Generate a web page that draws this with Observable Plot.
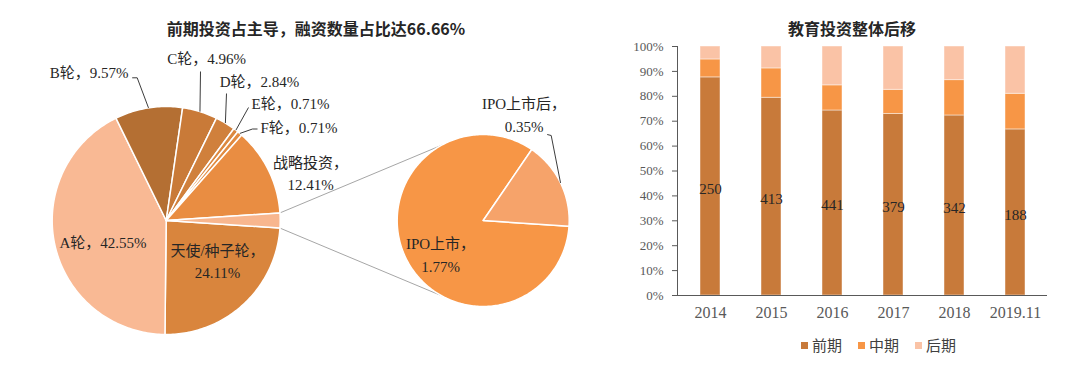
<!DOCTYPE html>
<html><head><meta charset="utf-8">
<script src="https://cdn.jsdelivr.net/npm/d3@7"></script>
<script src="https://cdn.jsdelivr.net/npm/@observablehq/plot@0.6"></script>
<style>
body{margin:0;background:#fff}
#wrap{position:relative;width:1080px;height:379px;overflow:hidden;background:#fff}
.panel{position:absolute;top:0}
.ttl{position:absolute;transform:translate(-50%,-50%);font-family:"Noto Sans CJK SC",sans-serif;font-weight:bold;font-size:16px;color:#262626;white-space:nowrap;line-height:20px}
.lg-swatches{font-family:"Noto Sans CJK SC",sans-serif;font-size:15px;color:#404040;margin:0}
.lg-swatches-wrap{min-height:0 !important;line-height:20px}
.lg-swatch{margin-right:16px !important}
.lg-swatch > svg{margin-right:4px !important}
#legend{position:absolute;left:801px;top:335px}
</style></head><body>
<div id="wrap">
  <div class="ttl" style="left:316px;top:28px">前期投资占主导，融资数量占比达66.66%</div>
  <div class="ttl" style="left:852px;top:28px">教育投资整体后移</div>
  <div id="left" class="panel" style="left:0"></div>
  <div id="right" class="panel" style="left:600px"></div>
  <div id="legend"></div>
</div>
<script>
// ---------- data ----------
const roundNames = ["天使/种子轮","A轮","B轮","C轮","D轮","E轮","F轮","战略投资"];
const roundShares = [24.11,42.55,9.57,4.96,2.84,0.71,0.71,12.41];
const ipoNames = ["IPO上市","IPO上市后"];
const ipoShares = [1.77,0.35];

const years = ["2014","2015","2016","2017","2018","2019.11"];
const stages = ["前期","中期","后期"];
const earlyShare = [87.6,79.4,74.3,72.9,72.3,66.7];
const midShare   = [7.2,11.8,10.1,9.7,14.2,14.3];
const lateShare  = [5.2,8.8,15.6,17.4,13.5,19.0];
const dealCounts = [250,413,441,379,342,188];
const yTicks = [0,0.1,0.2,0.3,0.4,0.5,0.6,0.7,0.8,0.9,1];

// ---------- styles / layout ----------
const sliceColors = {
  "天使/种子轮":"#D9853D","A轮":"#F9B994","B轮":"#B46F33","C轮":"#C97A38","D轮":"#D0803C",
  "E轮":"#DC8840","F轮":"#E28B41","战略投资":"#E98D42","IPO合计":"#F8B68E",
  "IPO上市":"#F79646","IPO上市后":"#F6A36A"
};
const stageColors = ["#C87A3A","#F79646","#FAC3A6"];
const mainPie = {cx:165.7, cy:220, r:114};
const subPie  = {cx:482.7, cy:220, r:86};
const connectorSpread = 61 * Math.PI/180;
const labelFont = "'Liberation Serif','Noto Sans CJK SC',serif";
// label placement (layout only) and leader elbows
const labelLayout = {
  "B轮":{x:128,y:73,anchor:"end",leader:[[131.7,77.3],[136.7,77.3]]},
  "C轮":{x:206,y:56,leader:[[200,71]]},
  "D轮":{x:259,y:79.5,leader:[[226,93]]},
  "E轮":{x:290,y:101.5,leader:[[248,107]]},
  "F轮":{x:298.5,y:125,leader:[[257,128.5],[252,128.5]]},
  "战略投资":{x:310,y:160,two:true},
  "A轮":{x:102.5,y:240},
  "天使/种子轮":{x:217,y:248,two:true},
  "IPO上市后":{x:523.5,y:101.5,two:true,leader:[[546.7,134],[550.7,135]],sub:true},
  "IPO上市":{x:440,y:241.5,two:true,sub:true}
};

// ---------- pie geometry ----------
const total = d3.sum(roundShares) + d3.sum(ipoShares);
const combined = d3.sum(ipoShares);
const combAngle = 2*Math.PI*combined/total;
const start = Math.PI/2 + combAngle/2;
const mainData = roundNames.map((n,i)=>({name:n,value:roundShares[i]})).concat([{name:"IPO合计",value:combined}]);
const subData = ipoNames.map((n,i)=>({name:n,value:ipoShares[i]}));
const pieGen = d3.pie().sort(null).value(d=>d.value).startAngle(start).endAngle(start+2*Math.PI);
const mainArcs = pieGen(mainData);
const subArcs = pieGen(subData);
const pt = (c,a,r=c.r)=>({x:c.cx + r*Math.sin(a), y:c.cy - r*Math.cos(a)});

function slicePoints(arcs, c){
  const out = [];
  for (const a of arcs){
    const name = a.data.name;
    out.push({x:c.cx,y:c.cy,name});
    const n = Math.max(2, Math.ceil((a.endAngle-a.startAngle)/(Math.PI/180)));
    for (let i=0;i<=n;i++){
      const p = pt(c, a.startAngle + (a.endAngle-a.startAngle)*i/n);
      out.push({...p,name});
    }
    out.push({x:c.cx,y:c.cy,name});
  }
  return out;
}
const slices = slicePoints(mainArcs, mainPie).concat(slicePoints(subArcs, subPie));

// connectors
const upA = Math.PI/2 - combAngle/2, loA = Math.PI/2 + combAngle/2;
const connectors = [
  {...pt(mainPie, upA), k:"up"}, {...pt(subPie, 1.5*Math.PI + connectorSpread), k:"up"},
  {...pt(mainPie, loA), k:"lo"}, {...pt(subPie, 1.5*Math.PI - connectorSpread), k:"lo"}
];

// labels and leaders
const labels = [], leaders = [];
for (const a of mainArcs.concat(subArcs)){
  const name = a.data.name, L = labelLayout[name];
  if (!L) continue;
  const pct = a.data.value.toFixed(2) + "%";
  labels.push({x:L.x, y: L.two ? L.y + 11.25 : L.y, anchor:L.anchor || "middle",
               text: name + (L.two ? "，\n" : "，") + pct});
  if (L.leader){
    const c = L.sub ? subPie : mainPie;
    const e = pt(c, (a.startAngle+a.endAngle)/2);
    L.leader.forEach(([x,y])=>leaders.push({x,y,name}));
    leaders.push({...e,name});
  }
}

const left = Plot.plot({
  width:600, height:379, margin:0,
  x:{domain:[0,600], range:[0,600], axis:null},
  y:{domain:[0,379], range:[0,379], axis:null},
  color:{domain:Object.keys(sliceColors), range:Object.values(sliceColors)},
  style:{background:"transparent", overflow:"visible"},
  marks:[
    Plot.line(connectors, {x:"x", y:"y", z:"k", stroke:"#A6A6A6", strokeWidth:1}),
    Plot.line(slices, {x:"x", y:"y", z:"name", fill:"name", stroke:"#fff", strokeWidth:1.5, curve:"linear"}),
    Plot.line(leaders, {x:"x", y:"y", z:"name", stroke:"#262626", strokeWidth:0.9, strokeLinecap:"butt"}),
    Plot.text(labels.filter(d=>d.anchor==="middle"), {x:"x", y:"y", text:"text", textAnchor:"middle", lineAnchor:"middle", lineHeight:1.5, fontSize:15, fontFamily:labelFont, fill:"#262626"}),
    Plot.text(labels.filter(d=>d.anchor==="end"), {x:"x", y:"y", text:"text", textAnchor:"end", lineAnchor:"middle", fontSize:15, fontFamily:labelFont, fill:"#262626"})
  ]
});
document.getElementById("left").append(left);

// ---------- bar chart ----------
const shares = [earlyShare, midShare, lateShare];
const barData = years.flatMap((yr,i)=>stages.map((s,j)=>({year:yr, stage:s, value:shares[j][i]/100, count:dealCounts[i]})));

const right = Plot.plot({
  width:480, height:379, marginLeft:77, marginRight:33, marginTop:46, marginBottom:84,
  style:{background:"transparent", fontFamily:labelFont},
  x:{type:"band", domain:years, paddingInner:0.68, paddingOuter:0.34, label:null},
  y:{domain:[0,1], label:null},
  color:{domain:stages, range:stageColors},
  marks:[
    Plot.barY(barData, {x:"year", y:"value", fill:"stage", stroke:"#fff", strokeOpacity:0.45, strokeWidth:1}),
    Plot.ruleY([0], {stroke:"#595959", strokeWidth:1}),
    Plot.frame({anchor:"left", stroke:"#595959", strokeWidth:1}),
    Plot.axisY({ticks:yTicks, tickFormat:d3.format(".0%"), tickSize:5, tickPadding:9, fontSize:13, color:"#595959", label:null}),
    Plot.axisX({tickSize:0, tickPadding:11, fontSize:16, color:"#595959", label:null}),
    Plot.text(barData.filter(d=>d.stage===stages[0]), {x:"year", y:d=>d.value/2, text:d=>String(d.count), dy:2.5, fontSize:15, fill:"#262626"})
  ]
});
document.getElementById("right").append(right);

const legend = Plot.legend({color:{domain:stages, range:stageColors}, legend:"swatches", swatchSize:7, className:"lg"});
document.getElementById("legend").append(legend);
</script>
</body></html>
